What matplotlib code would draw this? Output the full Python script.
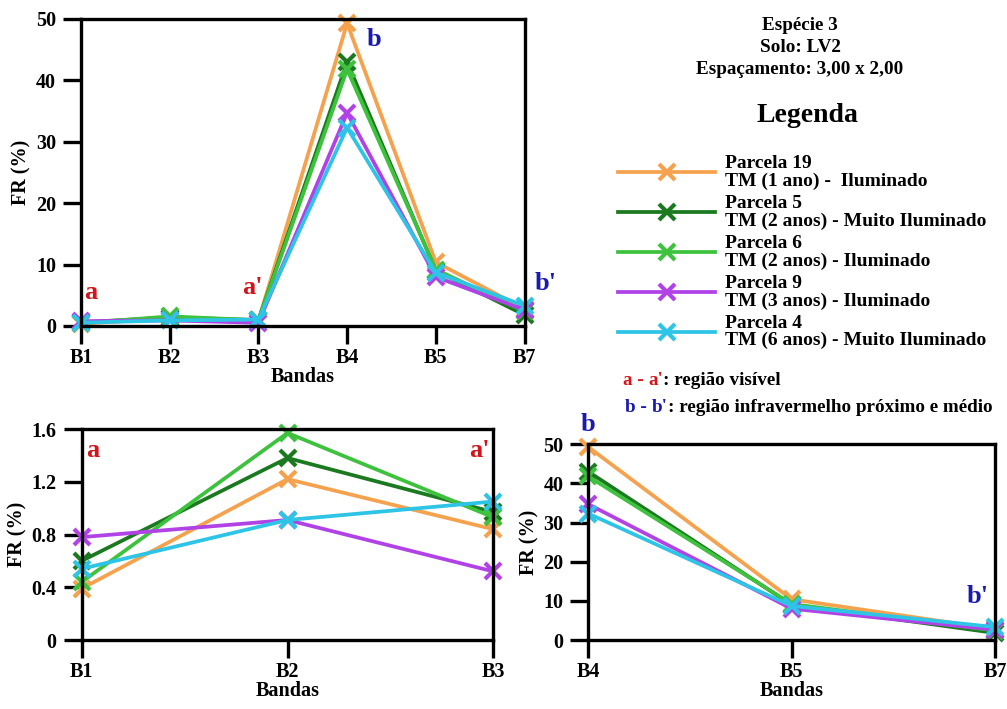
import matplotlib
matplotlib.use("Agg")
import matplotlib.pyplot as plt
import matplotlib.text as mtext

plt.rcParams['font.family'] = ['Liberation Serif', 'DejaVu Serif']
plt.rcParams['font.weight'] = 'bold'

bands = ['B1', 'B2', 'B3', 'B4', 'B5', 'B7']
p19 = [0.39, 1.22, 0.84, 49.3, 10.4, 2.8]
p5 = [0.60, 1.38, 0.97, 43.0, 9.0, 1.8]
p6 = [0.44, 1.57, 0.93, 41.8, 9.2, 2.4]
p9 = [0.78, 0.91, 0.52, 34.7, 8.0, 2.6]
p4 = [0.54, 0.91, 1.05, 32.3, 8.7, 3.3]

series = [p19, p5, p6, p9, p4]
labels = ['Parcela 19\nTM (1 ano) -  Iluminado',
          'Parcela 5\nTM (2 anos) - Muito Iluminado',
          'Parcela 6\nTM (2 anos) - Iluminado',
          'Parcela 9\nTM (3 anos) - Iluminado',
          'Parcela 4\nTM (6 anos) - Muito Iluminado']
colors = ['#F5A24E', '#1B7A1F', '#3EC23E', '#B042E6', '#2EC4E6']

RED = '#D0161C'
BLUE = '#1A1AB0'
FS = 14.5
AFS = 19

W, H = 1007, 709
fig = plt.figure(figsize=(W / 100, H / 100), dpi=100)


def add_ax(l, r, t, b):
    return fig.add_axes([l / W, 1 - b / H, (r - l) / W, (b - t) / H])


def style(ax):
    for s in ax.spines.values():
        s.set_linewidth(2.4)
    ax.tick_params(axis='both', length=13, width=2.4, direction='out',
                   labelsize=FS)
    ax.tick_params(axis='x', pad=3)
    ax.tick_params(axis='y', pad=5)
    ax.set_xlabel('Bandas', fontsize=FS, fontweight='bold', labelpad=-1)
    ax.set_ylabel('FR (%)', fontsize=FS, fontweight='bold', labelpad=3)


def plot_lines(ax, idx):
    handles = []
    for vals, c, lab in zip(series, colors, labels):
        h, = ax.plot(range(len(idx)), [vals[i] for i in idx], color=c,
                     lw=2.7, marker='x', ms=11, mew=3.0, clip_on=False,
                     label=lab)
        handles.append(h)
    ax.set_xticks(range(len(idx)))
    ax.set_xticklabels([bands[i] for i in idx])
    ax.set_xlim(0, len(idx) - 1)
    return handles


# top chart
ax1 = add_ax(81, 524.5, 19, 326)
handles = plot_lines(ax1, [0, 1, 2, 3, 4, 5])
ax1.set_ylim(0, 50)
ax1.set_yticks([0, 10, 20, 30, 40, 50])
style(ax1)
ax1.text(0.11, 5.4, 'a', color=RED, fontsize=AFS, fontweight='bold', ha='center', va='center')
ax1.text(1.93, 6.3, "a'", color=RED, fontsize=AFS, fontweight='bold', ha='center', va='center')
ax1.text(3.30, 46.7, 'b', color=BLUE, fontsize=AFS, fontweight='bold', ha='center', va='center')
ax1.text(5.24, 7.0, "b'", color=BLUE, fontsize=AFS, fontweight='bold', ha='center', va='center')

# bottom-left chart
ax2 = add_ax(81.7, 493.3, 429, 640)
plot_lines(ax2, [0, 1, 2])
ax2.set_ylim(0, 1.6)
ax2.set_yticks([0, 0.4, 0.8, 1.2, 1.6])
ax2.set_yticklabels(['0', '0.4', '0.8', '1.2', '1.6'])
style(ax2)
ax2.text(0.053, 1.44, 'a', color=RED, fontsize=AFS, fontweight='bold', ha='center', va='center')
ax2.text(1.935, 1.44, "a'", color=RED, fontsize=AFS, fontweight='bold', ha='center', va='center')

# bottom-right chart
ax3 = add_ax(588.3, 995, 444.3, 640)
plot_lines(ax3, [3, 4, 5])
ax3.set_ylim(0, 50)
ax3.set_yticks([0, 10, 20, 30, 40, 50])
style(ax3)
ax3.text(0.0, 55.0, 'b', color=BLUE, fontsize=AFS, fontweight='bold', ha='center', va='center')
ax3.text(1.916, 11.0, "b'", color=BLUE, fontsize=AFS, fontweight='bold', ha='center', va='center')

# header text
HFS = 13.8
fig.text(800 / W, 1 - 25 / H, 'Espécie 3', fontsize=HFS, fontweight='bold', ha='center', va='center')
fig.text(800 / W, 1 - 47 / H, 'Solo: LV2', fontsize=HFS, fontweight='bold', ha='center', va='center')
fig.text(800 / W, 1 - 70 / H, 'Espaçamento: 3,00 x 2,00', fontsize=HFS, fontweight='bold', ha='center', va='center')
fig.text(807 / W, 1 - 115 / H, 'Legenda', fontsize=20, fontweight='bold', ha='center', va='center')

leg = fig.legend(handles=handles, loc='upper left',
                 bbox_to_anchor=(618 / W, 1 - 155 / H), borderaxespad=0,
                 borderpad=0, frameon=False, fontsize=14.0, handlelength=5.0,
                 handletextpad=0.5, labelspacing=0.26, numpoints=1)
for t in leg.get_texts():
    t.set_fontweight('bold')
    t.set_linespacing(1.04)


# region notes
def note(x, y, parts, fs=13.8):
    prev = fig.text(x / W, 1 - y / H, parts[0][0], color=parts[0][1],
                    fontsize=fs, fontweight='bold', ha='left', va='baseline')
    for s, c in parts[1:]:
        prev = fig.add_artist(mtext.Annotation(
            s, xy=(1, 0), xycoords=prev, va='bottom', ha='left', color=c,
            fontsize=fs, fontweight='bold'))


note(623, 385, [('a - ', RED), ("a'", RED), (': região visível', 'black')])
note(625, 412, [('b - ', BLUE), ("b'", BLUE), (': região infravermelho próximo e médio', 'black')])

fig.savefig('out.png', dpi=100)
